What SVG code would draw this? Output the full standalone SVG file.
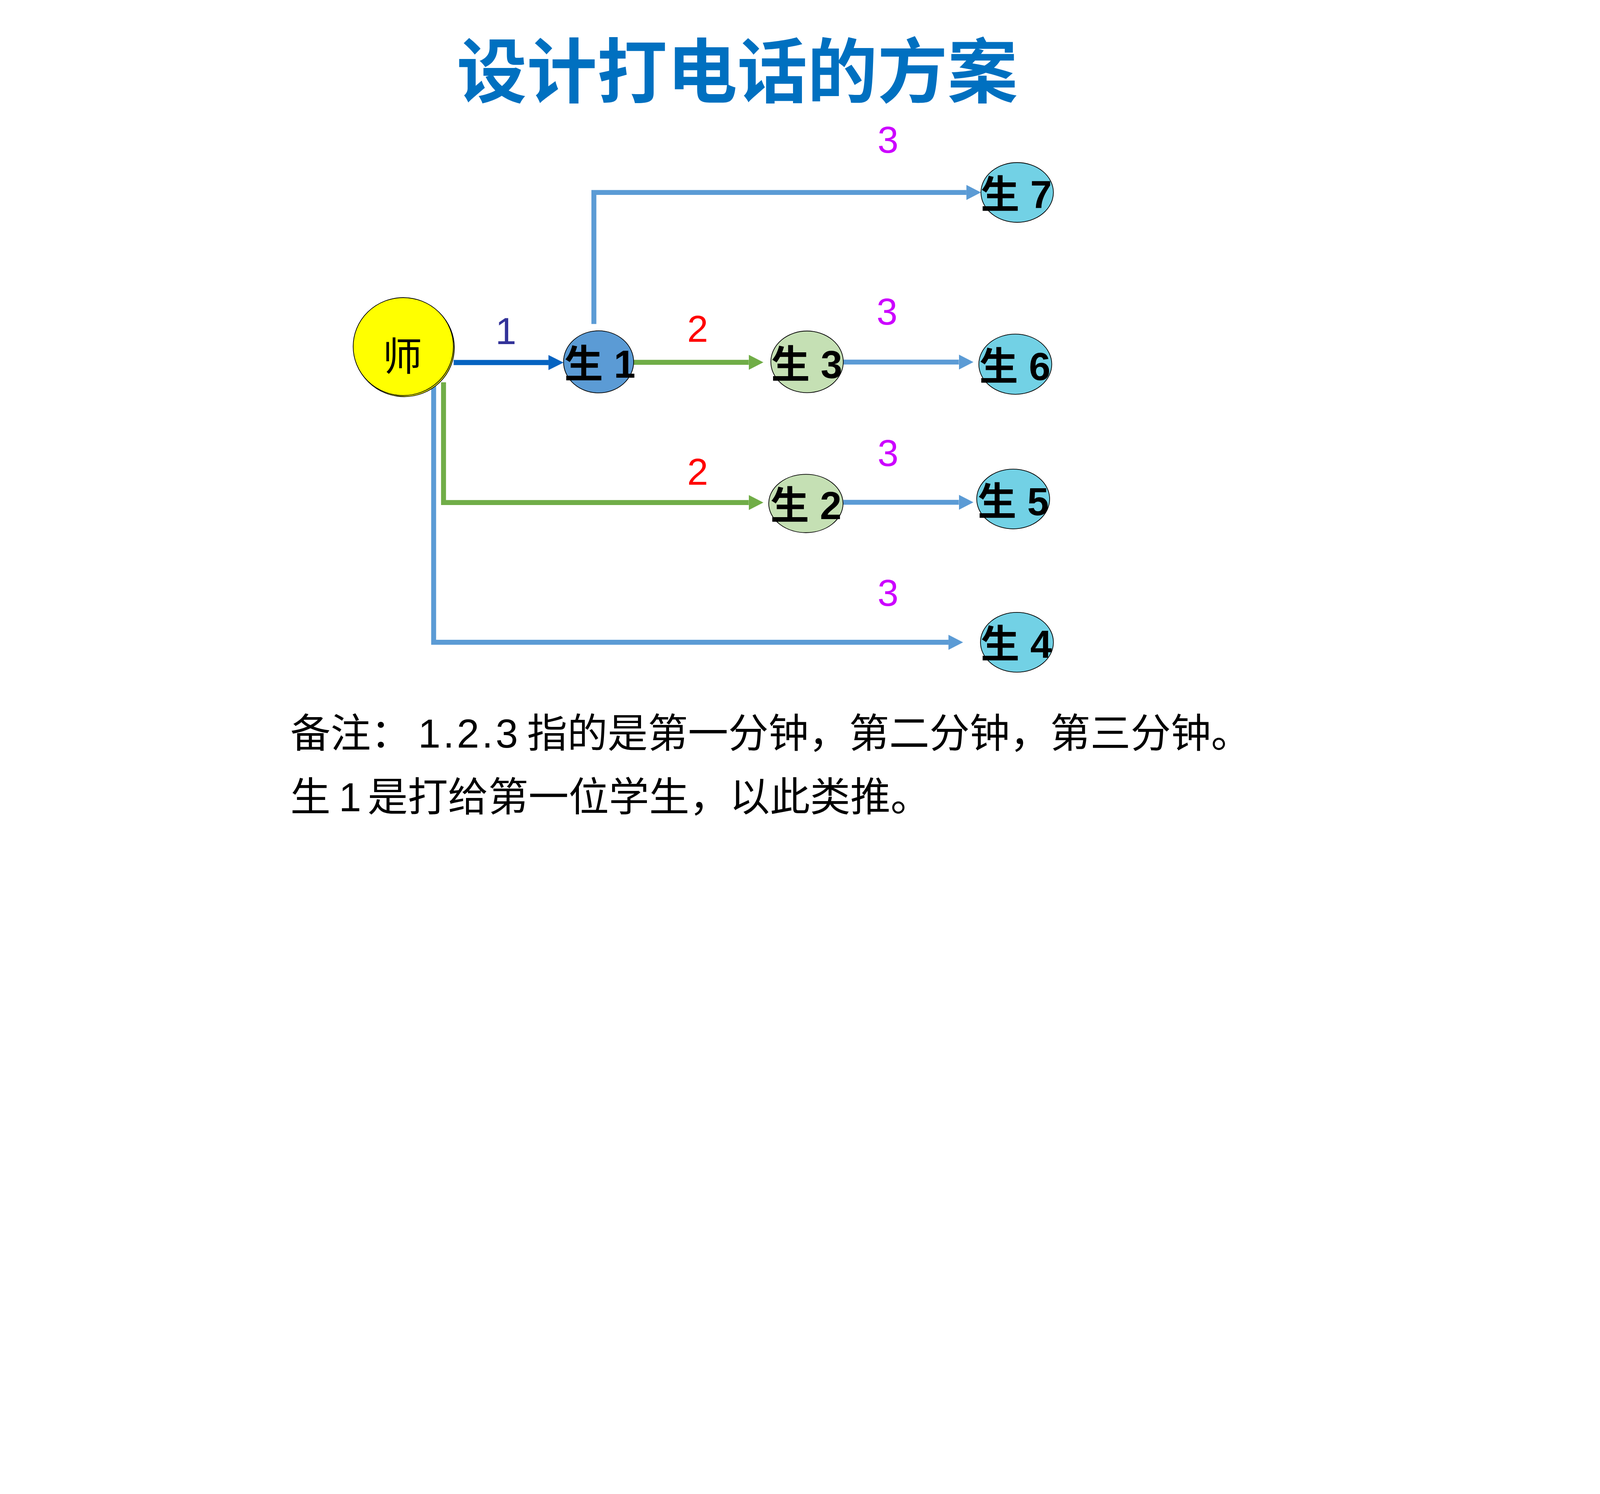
<svg xmlns="http://www.w3.org/2000/svg" width="6800" height="3825" viewBox="0 0 6800 3825">
<defs>
<style>
svg:root{max-width:100vw;height:auto}
.title{font-family:"Noto Sans CJK SC","Liberation Sans",sans-serif;font-weight:700;font-size:298px;fill:#0070C0}
.nlab{font-family:"Liberation Sans","Noto Sans CJK SC",sans-serif;font-weight:700;font-size:165px;fill:#000}
.tlab{font-family:"Liberation Sans","Noto Sans CJK SC",sans-serif;font-weight:400;font-size:168px;fill:#000}
.elab{font-family:"Liberation Sans",sans-serif;font-size:160px;text-anchor:middle}
.note{font-family:"Noto Sans CJK SC","Liberation Sans",sans-serif;font-size:171px;fill:#000}
.node{stroke:#000;stroke-width:3}
.c{fill:none;stroke-width:21;stroke-linejoin:miter}
.cb{stroke:#5B9BD5;marker-end:url(#mb)}
.cg{stroke:#70AD47;marker-end:url(#mg)}
.cd{stroke:#0563C1;stroke-width:22;marker-end:url(#md)}
</style>
<marker id="mb" markerUnits="userSpaceOnUse" markerWidth="62" markerHeight="64" viewBox="0 0 62 64" refX="0" refY="32" orient="auto"><path d="M0,0 L62,32 L0,64 z" fill="#5B9BD5"/></marker>
<marker id="mg" markerUnits="userSpaceOnUse" markerWidth="62" markerHeight="64" viewBox="0 0 62 64" refX="0" refY="32" orient="auto"><path d="M0,0 L62,32 L0,64 z" fill="#70AD47"/></marker>
<marker id="md" markerUnits="userSpaceOnUse" markerWidth="64" markerHeight="64" viewBox="0 0 64 64" refX="0" refY="32" orient="auto"><path d="M0,0 L64,32 L0,64 z" fill="#0563C1"/></marker>
</defs>
<rect width="6800" height="3825" fill="#FFFFFF"/>
<text id="title" class="title" x="3133" y="412" text-anchor="middle">设计打电话的方案</text>

<g id="connectors">
<path class="c cd" d="M1928,1541 H2331"/>
<path class="c cg" d="M2693,1540 H3182"/>
<path class="c cb" d="M2524,1377 V818 H4107"/>
<path class="c cb" d="M3584,1539 H4075"/>
<path class="c cg" d="M1885,1625 V2136 H3182"/>
<path class="c cb" d="M1843,1640 V2730 H4031"/>
<path class="c cb" d="M3584,2135 H4075"/>
</g>

<g id="edge-labels">
<text class="elab" x="2150" y="1463" fill="#333399">1</text>
<text class="elab" x="2965" y="1453" fill="#FF0000">2</text>
<text class="elab" x="2965" y="2061" fill="#FF0000">2</text>
<text class="elab" x="3774" y="649" fill="#CC00FF">3</text>
<text class="elab" x="3770" y="1379" fill="#CC00FF">3</text>
<text class="elab" x="3774" y="1980" fill="#CC00FF">3</text>
<text class="elab" x="3774" y="2575" fill="#CC00FF">3</text>
</g>

<g id="node-teacher">
<ellipse cx="1718" cy="1478" rx="213" ry="208" fill="#FFFF00" stroke="#000" stroke-width="3"/>
<ellipse class="node" cx="1714" cy="1473" rx="213" ry="208" fill="#FFFF00"/>
<text class="tlab" x="1710" y="1575" text-anchor="middle">师</text>
</g>
<g id="node-s1">
<ellipse class="node" cx="2544" cy="1538" rx="149" ry="132" fill="#5B9BD5"/>
<text class="nlab" x="2398" y="1606">生 1</text>
</g>
<g id="node-s3">
<ellipse class="node" cx="3430" cy="1538" rx="154" ry="131" fill="#C5E0B4"/>
<text class="nlab" x="3277" y="1607">生 3</text>
</g>
<g id="node-s2">
<ellipse class="node" cx="3425" cy="2140" rx="158" ry="124" fill="#C5E0B4"/>
<text class="nlab" x="3274" y="2207">生 2</text>
</g>
<g id="node-s7">
<ellipse class="node" cx="4323" cy="818" rx="154" ry="127" fill="#72D1E5"/>
<text class="nlab" x="4168" y="885">生 7</text>
</g>
<g id="node-s6">
<ellipse class="node" cx="4315" cy="1548" rx="155" ry="128" fill="#72D1E5"/>
<text class="nlab" x="4162" y="1615">生 6</text>
</g>
<g id="node-s5">
<ellipse class="node" cx="4306" cy="2121" rx="155" ry="127" fill="#72D1E5"/>
<text class="nlab" x="4155" y="2190">生 5</text>
</g>
<g id="node-s4">
<ellipse class="node" cx="4322" cy="2730" rx="155" ry="127" fill="#72D1E5"/>
<text class="nlab" x="4168" y="2796">生 4</text>
</g>

<g id="notes">
<text class="note" x="1234" y="3178">备注：<tspan x="1777" font-family="Liberation Sans" letter-spacing="11">1.2.3</tspan><tspan x="2240">指的是第一分钟，第二分钟，第三分钟。</tspan></text>
<text class="note" x="1234" y="3448">生<tspan x="1440" font-family="Liberation Sans">1</tspan><tspan x="1562">是打给第一位学生，以此类推。</tspan></text>
</g>
</svg>
